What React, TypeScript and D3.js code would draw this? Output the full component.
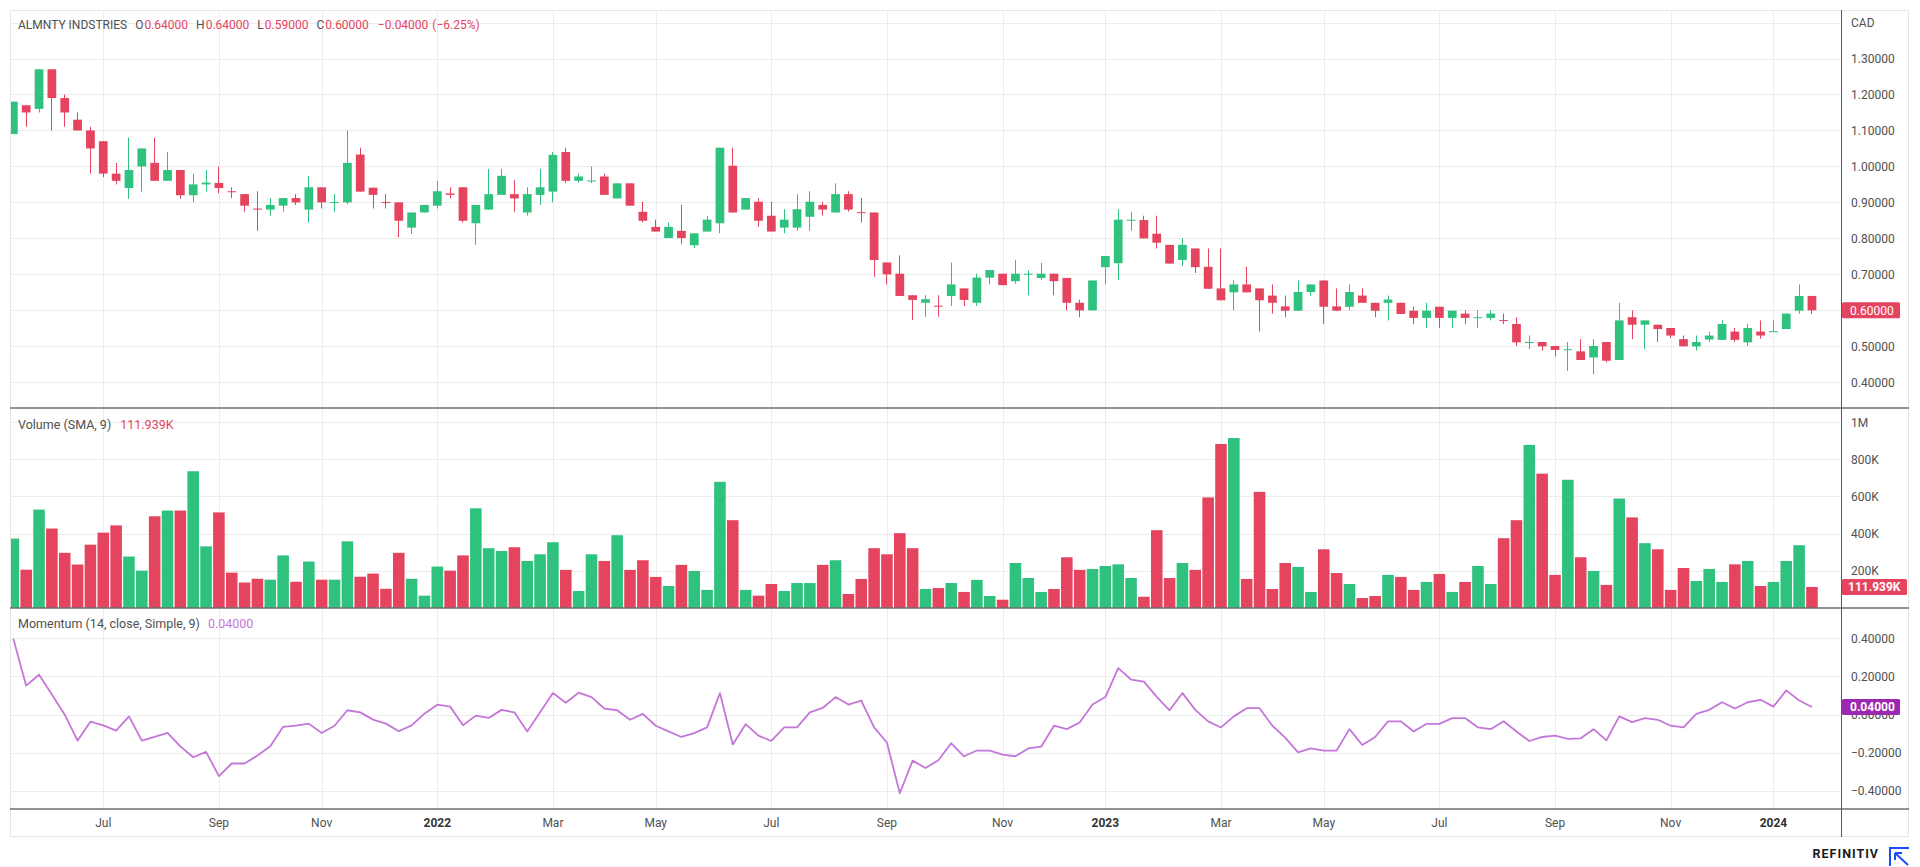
import React from "react";
import * as d3 from "d3";

// ---------- data (weekly bars) ----------
const START_WEEK = "2021-05-17";
const TICKER = "ALMNTY INDSTRIES";
const CURRENCY = "CAD";

const open = [
  1.09, 1.17, 1.16, 1.27, 1.19, 1.13, 1.10, 1.07, 0.98, 0.94,
  1.00, 1.01, 0.96, 0.99, 0.92, 0.95, 0.954, 0.931, 0.923, 0.883,
  0.880, 0.891, 0.912, 0.880, 0.942, 0.899, 0.900, 1.033, 0.941, 0.901,
  0.900, 0.830, 0.872, 0.891, 0.925, 0.942, 0.842, 0.880, 0.921, 0.923,
  0.872, 0.921, 0.930, 1.040, 0.960, 0.959, 0.972, 0.911, 0.953, 0.874,
  0.832, 0.801, 0.821, 0.781, 0.819, 0.842, 1.002, 0.880, 0.902, 0.863,
  0.830, 0.830, 0.860, 0.893, 0.872, 0.923, 0.873, 0.872, 0.733, 0.702,
  0.642, 0.621, 0.613, 0.640, 0.661, 0.621, 0.691, 0.702, 0.681, 0.700,
  0.690, 0.702, 0.690, 0.621, 0.600, 0.720, 0.731, 0.850, 0.851, 0.813,
  0.782, 0.740, 0.772, 0.721, 0.661, 0.650, 0.672, 0.661, 0.641, 0.611,
  0.599, 0.651, 0.683, 0.611, 0.610, 0.641, 0.621, 0.621, 0.621, 0.599,
  0.579, 0.610, 0.579, 0.591, 0.580, 0.579, 0.573, 0.562, 0.511, 0.512,
  0.501, 0.491, 0.486, 0.469, 0.512, 0.462, 0.581, 0.560, 0.560, 0.551,
  0.520, 0.500, 0.519, 0.518, 0.541, 0.511, 0.541, 0.540, 0.548, 0.599,
  0.640,
];
const high = [
  1.18, 1.17, 1.27, 1.27, 1.20, 1.15, 1.11, 1.07, 1.01, 1.08,
  1.05, 1.08, 1.04, 0.99, 0.98, 0.99, 1.00, 0.942, 0.923, 0.931,
  0.912, 0.912, 0.923, 0.974, 0.942, 0.923, 1.10, 1.052, 0.941, 0.923,
  0.900, 0.872, 0.893, 0.960, 0.942, 0.942, 0.893, 0.993, 0.993, 0.962,
  0.942, 0.993, 1.040, 1.052, 0.980, 1.000, 0.980, 0.953, 0.953, 0.902,
  0.852, 0.844, 0.893, 0.814, 0.863, 1.052, 1.052, 0.912, 0.912, 0.902,
  0.881, 0.923, 0.931, 0.902, 0.953, 0.931, 0.912, 0.872, 0.733, 0.753,
  0.642, 0.642, 0.642, 0.733, 0.661, 0.702, 0.712, 0.702, 0.740, 0.711,
  0.732, 0.702, 0.690, 0.630, 0.683, 0.751, 0.881, 0.874, 0.863, 0.863,
  0.782, 0.800, 0.772, 0.772, 0.772, 0.683, 0.721, 0.661, 0.672, 0.641,
  0.683, 0.672, 0.683, 0.661, 0.672, 0.661, 0.621, 0.641, 0.621, 0.610,
  0.621, 0.610, 0.599, 0.600, 0.600, 0.600, 0.591, 0.581, 0.530, 0.512,
  0.501, 0.512, 0.520, 0.520, 0.512, 0.621, 0.600, 0.572, 0.560, 0.551,
  0.530, 0.530, 0.541, 0.572, 0.551, 0.562, 0.572, 0.572, 0.591, 0.672,
  0.640,
];
const low = [
  1.09, 1.11, 1.15, 1.10, 1.11, 1.10, 0.98, 0.97, 0.95, 0.91,
  0.93, 0.96, 0.96, 0.91, 0.90, 0.93, 0.925, 0.912, 0.874, 0.821,
  0.863, 0.874, 0.893, 0.844, 0.883, 0.874, 0.895, 0.930, 0.883, 0.883,
  0.803, 0.812, 0.872, 0.883, 0.912, 0.844, 0.782, 0.880, 0.921, 0.874,
  0.863, 0.893, 0.900, 0.954, 0.954, 0.954, 0.921, 0.911, 0.891, 0.844,
  0.819, 0.801, 0.784, 0.773, 0.819, 0.814, 0.872, 0.880, 0.832, 0.819,
  0.814, 0.821, 0.821, 0.863, 0.872, 0.874, 0.844, 0.693, 0.672, 0.640,
  0.573, 0.582, 0.582, 0.612, 0.612, 0.612, 0.672, 0.670, 0.674, 0.642,
  0.684, 0.642, 0.600, 0.581, 0.600, 0.672, 0.684, 0.821, 0.800, 0.772,
  0.730, 0.723, 0.704, 0.660, 0.628, 0.600, 0.650, 0.541, 0.591, 0.581,
  0.599, 0.641, 0.562, 0.599, 0.600, 0.621, 0.581, 0.572, 0.590, 0.562,
  0.551, 0.551, 0.551, 0.562, 0.551, 0.572, 0.562, 0.501, 0.492, 0.488,
  0.472, 0.432, 0.462, 0.422, 0.455, 0.462, 0.520, 0.492, 0.512, 0.523,
  0.500, 0.488, 0.512, 0.518, 0.512, 0.501, 0.521, 0.540, 0.548, 0.591,
  0.590,
];
const close = [
  1.18, 1.15, 1.27, 1.19, 1.15, 1.10, 1.05, 0.98, 0.96, 0.99,
  1.05, 0.96, 0.99, 0.92, 0.95, 0.955, 0.94, 0.929, 0.891, 0.880,
  0.893, 0.912, 0.900, 0.942, 0.900, 0.901, 1.010, 0.930, 0.921, 0.899,
  0.849, 0.872, 0.893, 0.931, 0.921, 0.849, 0.893, 0.923, 0.974, 0.911,
  0.923, 0.942, 1.032, 0.960, 0.972, 0.961, 0.921, 0.953, 0.891, 0.849,
  0.819, 0.832, 0.801, 0.814, 0.852, 1.052, 0.872, 0.912, 0.849, 0.819,
  0.852, 0.881, 0.902, 0.880, 0.923, 0.880, 0.871, 0.740, 0.700, 0.640,
  0.629, 0.631, 0.611, 0.672, 0.629, 0.691, 0.712, 0.670, 0.702, 0.702,
  0.702, 0.681, 0.621, 0.600, 0.683, 0.751, 0.852, 0.852, 0.800, 0.788,
  0.730, 0.782, 0.720, 0.660, 0.628, 0.672, 0.650, 0.628, 0.621, 0.599,
  0.651, 0.672, 0.610, 0.599, 0.651, 0.621, 0.599, 0.630, 0.590, 0.579,
  0.599, 0.579, 0.599, 0.579, 0.581, 0.591, 0.571, 0.511, 0.512, 0.500,
  0.490, 0.492, 0.462, 0.501, 0.460, 0.572, 0.560, 0.572, 0.548, 0.530,
  0.500, 0.512, 0.530, 0.562, 0.518, 0.551, 0.530, 0.542, 0.591, 0.640,
  0.600,
];
// thousands of shares
const volumeK = [
  373, 205, 529, 427, 296, 233, 340, 405, 444, 276,
  200, 493, 524, 524, 736, 331, 514, 189, 136, 156,
  151, 282, 140, 249, 151, 151, 358, 167, 184, 102,
  296, 156, 65, 222, 200, 282, 536, 321, 306, 326,
  252, 288, 353, 204, 90, 288, 252, 391, 204, 256,
  166, 117, 231, 198, 96, 679, 472, 96, 65, 128,
  90, 133, 133, 231, 256, 74, 155, 321, 288, 402,
  321, 101, 106, 133, 85, 150, 63, 43, 241, 160,
  85, 101, 272, 204, 209, 225, 234, 160, 59, 418,
  160, 241, 204, 595, 883, 915, 155, 625, 101, 241,
  220, 85, 315, 187, 128, 52, 63, 177, 166, 96,
  139, 182, 85, 139, 225, 128, 375, 472, 878, 723,
  177, 690, 272, 198, 123, 589, 487, 348, 315, 96,
  214, 144, 209, 139, 234, 252, 117, 139, 252, 337,
  111.939,
];
const momentum = [
  0.397, 0.152, 0.209, 0.105, 0.0, -0.136, -0.037, -0.056, -0.084, -0.009,
  -0.136, -0.117, -0.096, -0.166, -0.223, -0.195, -0.322, -0.256, -0.256, -0.214,
  -0.166, -0.064, -0.058, -0.047, -0.096, -0.058, 0.023, 0.012, -0.026, -0.047,
  -0.087, -0.056, 0.005, 0.052, 0.042, -0.056, -0.005, -0.017, 0.025, 0.012,
  -0.088, 0.012, 0.113, 0.062, 0.115, 0.092, 0.032, 0.023, -0.027, 0.004,
  -0.058, -0.088, -0.117, -0.097, -0.067, 0.113, -0.156, -0.050, -0.110, -0.138,
  -0.067, -0.067, 0.012, 0.035, 0.092, 0.053, 0.074, -0.067, -0.147, -0.412,
  -0.241, -0.280, -0.239, -0.150, -0.218, -0.188, -0.188, -0.209, -0.218, -0.177,
  -0.168, -0.058, -0.076, -0.041, 0.053, 0.092, 0.244, 0.184, 0.173, 0.093,
  0.023, 0.113, 0.025, -0.035, -0.067, -0.009, 0.034, 0.034, -0.058, -0.120,
  -0.198, -0.177, -0.188, -0.188, -0.076, -0.159, -0.117, -0.035, -0.035, -0.088,
  -0.048, -0.048, -0.018, -0.018, -0.067, -0.076, -0.035, -0.088, -0.138, -0.117,
  -0.110, -0.127, -0.124, -0.076, -0.135, -0.009, -0.039, -0.018, -0.027, -0.058,
  -0.067, 0.004, 0.025, 0.065, 0.032, 0.065, 0.078, 0.042, 0.127, 0.074,
  0.04,
];
const priceTicks = [1.3, 1.2, 1.1, 1.0, 0.9, 0.8, 0.7, 0.6, 0.5, 0.4];
const priceGrid = [1.4, 1.3, 1.2, 1.1, 1.0, 0.9, 0.8, 0.7, 0.6, 0.5, 0.4];
const volumeTicks = [1000000, 800000, 600000, 400000, 200000];
const momentumTicks = [0.4, 0.2, 0.0, -0.2, -0.4];

// ---------- layout ----------
const W = 1920;
const H = 867;
const LEFT = 10;
const AXIS_X = 1841;
const RIGHT = 1909;
const TOP = 10;
const MAIN_BOTTOM = 408;
const VOL_BOTTOM = 608;
const MOM_BOTTOM = 809;
const AXIS_BOTTOM = 837;

const UP = "#2ec27e";
const DOWN = "#e5445f";
const MOM_LINE = "#c477d8";
const MOM_TAG = "#9c27b0";
const GRID = "#ececec";
const SEP = "#6e6e6e";
const TEXT = "#505050";
const FONT = "Roboto, 'Liberation Sans', Arial, sans-serif";

export default function App() {
  const n = close.length;
  const start = new Date(START_WEEK + "T00:00:00Z");
  const dates = d3.range(n).map((i) => d3.utcMonday.offset(start, i));

  const x = d3.scaleLinear().domain([-0.26, n + 1.26]).range([LEFT, AXIS_X]);
  const step = x(1) - x(0);
  const yP = d3.scaleLinear().domain([0.4, 1.3]).range([382.3, 58.5]);
  const yV = d3.scaleLinear().domain([0, 1000000]).range([VOL_BOTTOM - 0.3, 422.3]);
  const yM = d3.scaleLinear().domain([-0.4, 0.4]).range([791, 638.3]);

  const f5 = d3.format(".5f");
  const bodyW = step * 0.68;
  const barW = step * 0.9;

  // month ticks every other month (first bar of Jan, Mar, May, Jul, Sep, Nov)
  const ticks = d3
    .range(1, n)
    .filter((i) => dates[i].getUTCMonth() !== dates[i - 1].getUTCMonth() && dates[i].getUTCMonth() % 2 === 0)
    .map((i) => ({
      i,
      year: dates[i].getUTCMonth() === 0,
      label: dates[i].getUTCMonth() === 0 ? d3.utcFormat("%Y")(dates[i]) : d3.utcFormat("%b")(dates[i]),
    }));

  const last = n - 1;
  const change = close[last] - close[last - 1];
  const pct = (change / close[last - 1]) * 100;
  const volFmt = (v: number) => (v >= 1e6 ? `${v / 1e6}M` : `${v / 1e3}K`);

  const momPath = d3
    .line<number>()
    .x((_, i) => x(i))
    .y((d) => yM(d))(momentum) as string;

  const crisp = (v: number) => Math.round(v) + 0.5;

  return (
    <svg
      width={W}
      height={H}
      viewBox={`0 0 ${W} ${H}`}
      style={{ position: "fixed", left: 0, top: 0, background: "#fff", fontFamily: FONT }}
    >
      <defs>
        <clipPath id="cMain">
          <rect x={LEFT} y={TOP} width={AXIS_X - LEFT} height={MAIN_BOTTOM - TOP} />
        </clipPath>
        <clipPath id="cVol">
          <rect x={LEFT} y={MAIN_BOTTOM} width={AXIS_X - LEFT} height={VOL_BOTTOM - MAIN_BOTTOM} />
        </clipPath>
        <clipPath id="cMom">
          <rect x={LEFT} y={VOL_BOTTOM} width={AXIS_X - LEFT} height={MOM_BOTTOM - VOL_BOTTOM} />
        </clipPath>
      </defs>
      <rect x={0} y={0} width={W} height={H} fill="#fff" />

      {/* vertical grid */}
      {ticks.map((t) => (
        <line key={"vg" + t.i} x1={crisp(x(t.i))} x2={crisp(x(t.i))} y1={TOP} y2={MOM_BOTTOM} stroke={GRID} strokeWidth={1} />
      ))}
      {/* horizontal grid */}
      {priceGrid.map((p) => (
        <line key={"pg" + p} x1={LEFT} x2={AXIS_X} y1={crisp(yP(p))} y2={crisp(yP(p))} stroke={GRID} />
      ))}
      {volumeTicks.map((v) => (
        <line key={"vgl" + v} x1={LEFT} x2={AXIS_X} y1={crisp(yV(v))} y2={crisp(yV(v))} stroke={GRID} />
      ))}
      {momentumTicks.map((m) => (
        <line key={"mg" + m} x1={LEFT} x2={AXIS_X} y1={crisp(yM(m))} y2={crisp(yM(m))} stroke={GRID} />
      ))}

      {/* candles */}
      <g clipPath="url(#cMain)">
        {close.map((c, i) => {
          const o = open[i];
          const up = c >= o;
          const col = up ? UP : DOWN;
          const cx = x(i);
          const top = yP(Math.max(o, c));
          const bot = yP(Math.min(o, c));
          return (
            <g key={"c" + i}>
              <line x1={crisp(cx - 0.5)} x2={crisp(cx - 0.5)} y1={yP(high[i])} y2={yP(low[i])} stroke={col} strokeWidth={1} />
              <rect x={cx - bodyW / 2} y={top} width={bodyW} height={Math.max(1, bot - top)} fill={col} />
            </g>
          );
        })}
      </g>

      {/* volume */}
      <g clipPath="url(#cVol)">
        {volumeK.map((v, i) => {
          const up = close[i] >= open[i];
          const yy = yV(v * 1000);
          return (
            <rect
              key={"v" + i}
              x={x(i) - barW / 2}
              y={yy}
              width={barW}
              height={VOL_BOTTOM - yy}
              fill={up ? UP : DOWN}
            />
          );
        })}
      </g>

      {/* momentum */}
      <g clipPath="url(#cMom)">
        <path d={momPath} fill="none" stroke={MOM_LINE} strokeWidth={1.8} strokeLinejoin="round" />
      </g>

      {/* outer border */}
      <rect x={LEFT + 0.5} y={TOP + 0.5} width={RIGHT - LEFT - 1} height={AXIS_BOTTOM - TOP - 1} fill="none" stroke="#e6e6e6" />
      {/* pane separators */}
      <line x1={LEFT} x2={RIGHT} y1={MAIN_BOTTOM} y2={MAIN_BOTTOM} stroke={SEP} strokeWidth={1.4} />
      <line x1={LEFT} x2={RIGHT} y1={VOL_BOTTOM} y2={VOL_BOTTOM} stroke={SEP} strokeWidth={1.4} />
      <line x1={LEFT} x2={RIGHT} y1={MOM_BOTTOM} y2={MOM_BOTTOM} stroke={SEP} strokeWidth={1.4} />
      <line x1={AXIS_X + 0.5} x2={AXIS_X + 0.5} y1={TOP} y2={AXIS_BOTTOM} stroke="#5a5a5a" strokeWidth={1} />

      {/* headers (flowing text) */}
      <text x={18} y={29} fontSize={12} fill={TEXT}>
        <tspan>{TICKER}</tspan>
        <tspan dx={8}>O</tspan>
        <tspan dx={1} fill={DOWN}>{f5(open[last])}</tspan>
        <tspan dx={8}>H</tspan>
        <tspan dx={1} fill={DOWN}>{f5(high[last])}</tspan>
        <tspan dx={8}>L</tspan>
        <tspan dx={1} fill={DOWN}>{f5(low[last])}</tspan>
        <tspan dx={8}>C</tspan>
        <tspan dx={1} fill={DOWN}>{f5(close[last])}</tspan>
        <tspan dx={9} fill={DOWN}>{f5(change)}</tspan>
        <tspan dx={4} fill={DOWN}>{`(${d3.format(".2f")(pct)}%)`}</tspan>
      </text>
      <text x={18} y={429} fontSize={12.5} fill={TEXT}>
        <tspan>Volume (SMA, 9)</tspan>
        <tspan dx={9} fill={DOWN}>{`${d3.format(".3f")(volumeK[last])}K`}</tspan>
      </text>
      <text x={18} y={628} fontSize={12.5} fill={TEXT}>
        <tspan>Momentum (14, close, Simple, 9)</tspan>
        <tspan dx={8} fill={MOM_LINE}>{f5(momentum[last])}</tspan>
      </text>

      {/* right axis labels */}
      <text x={1851} y={yP(1.4)} dy="0.35em" fontSize={12} fill={TEXT}>{CURRENCY}</text>
      {priceTicks.map((p) => (
        <text key={"pl" + p} x={1851} y={yP(p)} dy="0.35em" fontSize={12} fill={TEXT}>{f5(p)}</text>
      ))}
      {volumeTicks.map((v) => (
        <text key={"vl" + v} x={1851} y={yV(v)} dy="0.35em" fontSize={12} fill={TEXT}>{volFmt(v)}</text>
      ))}
      {momentumTicks.map((m) => (
        <text key={"ml" + m} x={1851} y={yM(m)} dy="0.35em" fontSize={12} fill={TEXT}>{f5(m)}</text>
      ))}

      {/* last value tags */}
      <g>
        <rect x={AXIS_X + 1} y={yP(close[last]) - 8} width={58} height={16} rx={1.5} fill={DOWN} />
        <text x={1850} y={yP(close[last])} dy="0.35em" fontSize={12} fill="#fff">{f5(close[last])}</text>
      </g>
      <g>
        <rect x={AXIS_X + 1} y={yV(volumeK[last] * 1000) - 8} width={65} height={16} rx={1.5} fill={DOWN} />
        <text x={1848} y={yV(volumeK[last] * 1000)} dy="0.35em" fontSize={12} fontWeight={700} fill="#fff">
          {`${d3.format(".3f")(volumeK[last])}K`}
        </text>
      </g>
      <g>
        <rect x={AXIS_X + 1} y={yM(momentum[last]) - 8} width={58} height={16} rx={1.5} fill={MOM_TAG} />
        <text x={1850} y={yM(momentum[last])} dy="0.35em" fontSize={12} fontWeight={700} fill="#fff">{f5(momentum[last])}</text>
      </g>

      {/* time axis labels */}
      {ticks.map((t) => (
        <text
          key={"tl" + t.i}
          x={x(t.i)}
          y={827}
          textAnchor="middle"
          fontSize={12}
          fontWeight={t.year ? 700 : 400}
          fill={t.year ? "#333" : TEXT}
        >
          {t.label}
        </text>
      ))}

      {/* logo */}
      <text x={1879} y={858} textAnchor="end" fontSize={12.5} fontWeight={700} letterSpacing={1} fill="#1b1b1b">
        REFINITIV
      </text>
      <g stroke="#1a4dff" strokeWidth={2} fill="none">
        <path d="M1890,866 V848 H1909" />
        <path d="M1895,853 L1908,865" />
        <path d="M1895,853 V860 M1895,853 H1902" />
      </g>
    </svg>
  );
}
